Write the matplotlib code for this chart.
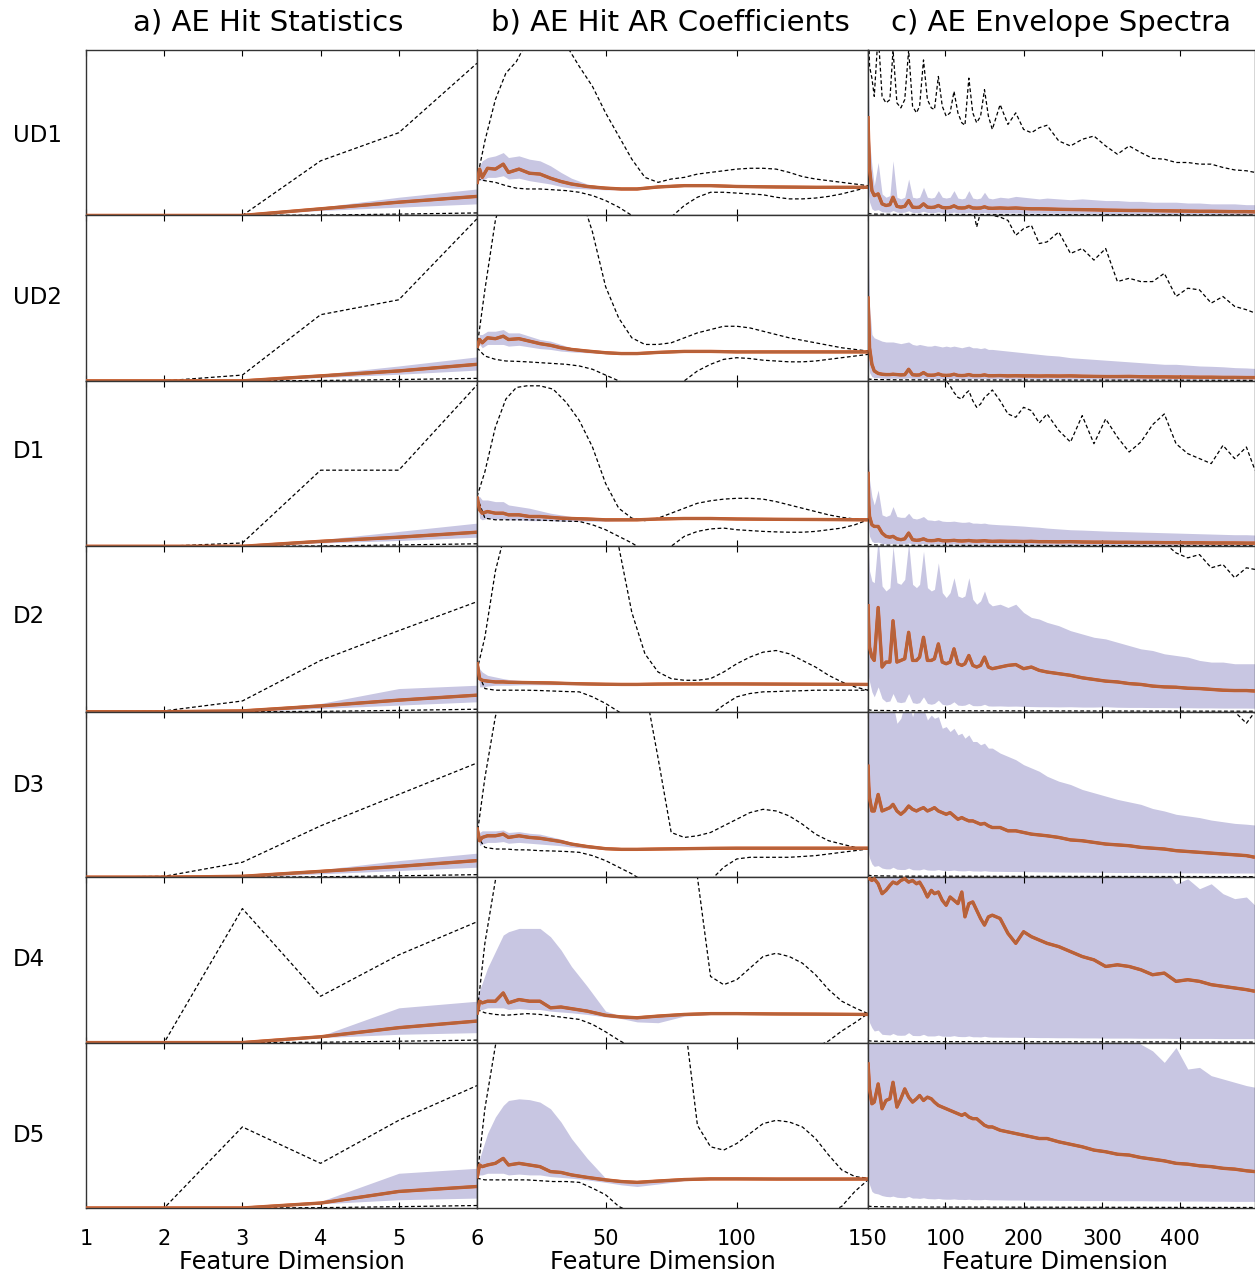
#!/usr/bin/env python3
"""
Recreate the AE feature comparison grid (hit statistics, AR coefficients,
envelope spectra) for the seven damage states.
"""

import matplotlib
matplotlib.use('Agg')
import matplotlib.pyplot as plt

# ---------------------------------------------------------------------------
# Data (in panel units: 0 = bottom, 1 = top)
# ---------------------------------------------------------------------------
rows = ['UD1', 'UD2', 'D1', 'D2', 'D3', 'D4', 'D5']
row_label_y = [135, 297, 452, 617, 786, 960, 1136]   # pixel rows of the labels
col_titles = ['a) AE Hit Statistics', 'b) AE Hit AR Coefficients', 'c) AE Envelope Spectra']
x_label = 'Feature Dimension'

# --- column a: hit statistics, 6 features
a_x = [1, 2, 3, 4, 5, 6]
a_upper = {
    'UD1': [0, 0, 0, 0.33, 0.50, 0.92],
    'UD2': [0, 0, 0.035, 0.40, 0.49, 0.98],
    'D1': [0, 0, 0.02, 0.46, 0.46, 0.975],
    'D2': [0, 0.005, 0.065, 0.31, 0.49, 0.665],
    'D3': [0, 0.005, 0.09, 0.31, 0.50, 0.69],
    'D4': [0, 0, 0.81, 0.28, 0.53, 0.73],
    'D5': [0, 0, 0.49, 0.27, 0.53, 0.74],
}
a_lower = [0, 0, 0, 0.002, 0.008, 0.015]
a_mean = {
    'UD1': [0, 0, 0, 0.04, 0.08, 0.115],
    'UD2': [0, 0, 0, 0.03, 0.06, 0.10],
    'D1': [0, 0, 0, 0.03, 0.055, 0.085],
    'D2': [0, 0, 0.005, 0.035, 0.07, 0.10],
    'D3': [0, 0, 0.005, 0.035, 0.065, 0.10],
    'D4': [0, 0, 0, 0.035, 0.09, 0.13],
    'D5': [0, 0, 0, 0.03, 0.10, 0.13],
}
a_hi = {
    'UD1': [0, 0, 0, 0.05, 0.11, 0.16],
    'UD2': [0, 0, 0, 0.04, 0.09, 0.145],
    'D1': [0, 0, 0, 0.04, 0.09, 0.14],
    'D2': [0, 0, 0.01, 0.05, 0.14, 0.16],
    'D3': [0, 0, 0.01, 0.045, 0.10, 0.145],
    'D4': [0, 0, 0, 0.04, 0.21, 0.25],
    'D5': [0, 0, 0, 0.04, 0.21, 0.24],
}
a_lo = {
    'UD1': [0, 0, 0, 0.03, 0.05, 0.07],
    'UD2': [0, 0, 0, 0.02, 0.04, 0.065],
    'D1': [0, 0, 0, 0.02, 0.035, 0.055],
    'D2': [0, 0, 0, 0.02, 0.04, 0.06],
    'D3': [0, 0, 0, 0.02, 0.04, 0.06],
    'D4': [0, 0, 0, 0.03, 0.05, 0.06],
    'D5': [0, 0, 0, 0.025, 0.05, 0.06],
}

# --- column b: AR coefficients, 150 features
b_xd = [1, 4, 8, 12, 16, 20, 25, 30, 35, 40, 45, 50, 55, 60, 65, 70,
        75, 80, 85, 90, 95, 100, 105, 110, 115, 120, 125, 130, 135, 140, 145, 150]
b_upper = {
    'UD1': [0.22, 0.45, 0.70, 0.86, 0.93, 1.05, 1.20, 1.20, 1.03, 0.90, 0.78, 0.62, 0.48, 0.34, 0.23, 0.20,
            0.22, 0.23, 0.25, 0.26, 0.27, 0.28, 0.285, 0.285, 0.28, 0.26, 0.235, 0.22, 0.21, 0.20, 0.19, 0.18],
    'UD2': [0.20, 0.55, 0.97, 1.20, 1.35, 1.45, 1.50, 1.45, 1.30, 1.15, 0.90, 0.57, 0.38, 0.26, 0.22, 0.22,
            0.23, 0.26, 0.29, 0.31, 0.33, 0.33, 0.32, 0.30, 0.28, 0.26, 0.245, 0.23, 0.215, 0.20, 0.19, 0.18],
    'D1': [0.30, 0.45, 0.72, 0.89, 0.96, 0.97, 0.97, 0.95, 0.87, 0.76, 0.60, 0.38, 0.23, 0.17, 0.155, 0.17,
           0.20, 0.23, 0.26, 0.275, 0.285, 0.29, 0.29, 0.285, 0.27, 0.25, 0.23, 0.21, 0.19, 0.175, 0.165, 0.16],
    'D2': [0.25, 0.45, 0.85, 1.10, 1.30, 1.45, 1.55, 1.60, 1.60, 1.50, 1.35, 1.20, 1.00, 0.60, 0.35, 0.24,
           0.20, 0.19, 0.19, 0.20, 0.24, 0.29, 0.33, 0.36, 0.37, 0.35, 0.31, 0.27, 0.22, 0.18, 0.15, 0.13],
    'D3': [0.25, 0.60, 0.97, 1.20, 1.35, 1.50, 1.60, 1.70, 1.75, 1.75, 1.70, 1.60, 1.50, 1.35, 1.15, 0.72,
           0.27, 0.24, 0.25, 0.27, 0.31, 0.35, 0.39, 0.41, 0.40, 0.37, 0.32, 0.26, 0.22, 0.20, 0.18, 0.17],
    'D4': [0.175, 0.60, 0.98, 1.30, 1.50, 1.70, 1.85, 2.00, 2.05, 2.10, 2.10, 2.10, 2.05, 2.00, 1.90, 1.80,
           1.60, 1.30, 1.00, 0.40, 0.35, 0.38, 0.45, 0.52, 0.54, 0.52, 0.48, 0.41, 0.32, 0.25, 0.21, 0.175],
    'D5': [0.18, 0.60, 0.98, 1.30, 1.50, 1.70, 1.85, 2.00, 2.05, 2.10, 2.10, 2.10, 2.05, 2.00, 1.90, 1.70,
           1.45, 1.15, 0.50, 0.37, 0.35, 0.39, 0.45, 0.51, 0.53, 0.52, 0.49, 0.42, 0.32, 0.23, 0.19, 0.18],
}
b_lower = {
    'UD1': [0.22, 0.21, 0.20, 0.18, 0.165, 0.16, 0.16, 0.155, 0.15, 0.14, 0.12, 0.09, 0.05, 0.0, -0.05, -0.06,
            -0.01, 0.06, 0.11, 0.14, 0.14, 0.135, 0.13, 0.125, 0.11, 0.10, 0.10, 0.105, 0.115, 0.13, 0.15, 0.17],
    'UD2': [0.20, 0.15, 0.13, 0.12, 0.118, 0.115, 0.11, 0.105, 0.10, 0.09, 0.07, 0.035, 0.0, -0.04, -0.06, -0.06,
            -0.04, 0.0, 0.06, 0.10, 0.13, 0.14, 0.135, 0.125, 0.12, 0.115, 0.115, 0.12, 0.13, 0.14, 0.15, 0.16],
    'D1': [0.30, 0.17, 0.16, 0.16, 0.16, 0.16, 0.158, 0.155, 0.152, 0.15, 0.13, 0.10, 0.06, 0.02, -0.03, -0.04,
           0.0, 0.06, 0.09, 0.105, 0.11, 0.10, 0.095, 0.09, 0.087, 0.085, 0.085, 0.09, 0.10, 0.11, 0.13, 0.16],
    'D2': [0.25, 0.14, 0.13, 0.13, 0.13, 0.13, 0.128, 0.125, 0.122, 0.12, 0.09, 0.05, 0.0, -0.05, -0.08, -0.09,
           -0.09, -0.08, -0.06, -0.02, 0.04, 0.09, 0.11, 0.12, 0.122, 0.125, 0.127, 0.13, 0.13, 0.13, 0.13, 0.13],
    'D3': [0.25, 0.18, 0.17, 0.17, 0.165, 0.165, 0.16, 0.158, 0.155, 0.15, 0.13, 0.10, 0.06, 0.02, -0.03, -0.06,
           -0.07, -0.07, -0.05, -0.02, 0.06, 0.11, 0.12, 0.12, 0.12, 0.12, 0.125, 0.13, 0.14, 0.15, 0.16, 0.17],
    'D4': [0.20, 0.18, 0.17, 0.165, 0.17, 0.175, 0.17, 0.16, 0.15, 0.14, 0.11, 0.065, 0.015, -0.03, -0.06, -0.08,
           -0.09, -0.10, -0.10, -0.10, -0.10, -0.10, -0.09, -0.08, -0.07, -0.06, -0.05, -0.03, 0.01, 0.07, 0.12, 0.175],
    'D5': [0.18, 0.17, 0.17, 0.17, 0.17, 0.17, 0.165, 0.16, 0.16, 0.155, 0.12, 0.08, 0.01, -0.03, -0.06, -0.08,
           -0.09, -0.10, -0.10, -0.10, -0.10, -0.10, -0.10, -0.09, -0.08, -0.07, -0.06, -0.05, -0.03, 0.01, 0.10, 0.17],
}
b_x = [1, 2, 3, 5, 8, 11, 13, 17, 21, 25, 29, 33, 37, 43, 50, 56, 62, 70, 80, 90, 100, 115, 130, 150]
b_mean = {
    'UD1': [0.19, 0.28, 0.23, 0.285, 0.28, 0.31, 0.26, 0.28, 0.255, 0.25, 0.225, 0.205,
            0.19, 0.175, 0.165, 0.16, 0.16, 0.172, 0.18, 0.18, 0.175, 0.172, 0.17, 0.17],
    'UD2': [0.20, 0.25, 0.23, 0.26, 0.255, 0.27, 0.25, 0.255, 0.24, 0.225, 0.215, 0.20,
            0.19, 0.18, 0.17, 0.165, 0.165, 0.172, 0.178, 0.178, 0.175, 0.175, 0.175, 0.175],
    'D1': [0.30, 0.22, 0.20, 0.21, 0.20, 0.20, 0.19, 0.19, 0.18, 0.18, 0.175, 0.17,
           0.168, 0.165, 0.16, 0.16, 0.16, 0.165, 0.168, 0.168, 0.165, 0.163, 0.162, 0.16],
    'D2': [0.30, 0.20, 0.19, 0.185, 0.18, 0.18, 0.178, 0.177, 0.176, 0.175, 0.174, 0.172,
           0.17, 0.168, 0.166, 0.165, 0.165, 0.167, 0.168, 0.168, 0.168, 0.167, 0.166, 0.165],
    'D3': [0.30, 0.22, 0.24, 0.25, 0.25, 0.26, 0.24, 0.25, 0.24, 0.235, 0.225, 0.215,
           0.20, 0.185, 0.172, 0.168, 0.168, 0.17, 0.172, 0.174, 0.175, 0.175, 0.175, 0.175],
    'D4': [0.17, 0.25, 0.24, 0.25, 0.25, 0.30, 0.24, 0.26, 0.25, 0.25, 0.21, 0.215,
           0.205, 0.19, 0.165, 0.155, 0.15, 0.16, 0.17, 0.175, 0.175, 0.173, 0.172, 0.17],
    'D5': [0.18, 0.26, 0.25, 0.26, 0.27, 0.30, 0.26, 0.27, 0.26, 0.25, 0.22, 0.215,
           0.20, 0.185, 0.17, 0.16, 0.155, 0.163, 0.172, 0.176, 0.176, 0.175, 0.175, 0.175],
}
b_hi = {
    'UD1': [0.19, 0.30, 0.33, 0.35, 0.36, 0.38, 0.35, 0.36, 0.34, 0.33, 0.30, 0.26,
            0.225, 0.19, 0.17, 0.162, 0.163, 0.175, 0.183, 0.183, 0.178, 0.175, 0.173, 0.172],
    'UD2': [0.20, 0.28, 0.28, 0.30, 0.30, 0.31, 0.29, 0.29, 0.27, 0.25, 0.24, 0.22,
            0.20, 0.185, 0.173, 0.167, 0.167, 0.175, 0.18, 0.18, 0.178, 0.177, 0.177, 0.177],
    'D1': [0.30, 0.30, 0.28, 0.28, 0.27, 0.27, 0.25, 0.24, 0.23, 0.215, 0.20, 0.19,
           0.18, 0.172, 0.165, 0.162, 0.162, 0.167, 0.17, 0.17, 0.167, 0.165, 0.164, 0.162],
    'D2': [0.30, 0.26, 0.24, 0.22, 0.21, 0.20, 0.195, 0.19, 0.185, 0.182, 0.18, 0.178,
           0.175, 0.172, 0.168, 0.167, 0.167, 0.169, 0.17, 0.17, 0.17, 0.169, 0.168, 0.167],
    'D3': [0.30, 0.27, 0.28, 0.28, 0.28, 0.285, 0.27, 0.275, 0.265, 0.26, 0.245, 0.23,
           0.21, 0.19, 0.175, 0.17, 0.17, 0.172, 0.174, 0.176, 0.177, 0.177, 0.177, 0.177],
    'D4': [0.25, 0.32, 0.36, 0.45, 0.55, 0.65, 0.67, 0.69, 0.69, 0.69, 0.64, 0.56,
           0.46, 0.34, 0.19, 0.16, 0.15, 0.162, 0.172, 0.177, 0.177, 0.175, 0.173, 0.172],
    'D5': [0.18, 0.30, 0.35, 0.45, 0.55, 0.62, 0.65, 0.66, 0.655, 0.64, 0.60, 0.52,
           0.42, 0.30, 0.18, 0.16, 0.155, 0.165, 0.175, 0.178, 0.178, 0.177, 0.177, 0.177],
}
b_lo = {
    'UD1': [0.19, 0.22, 0.21, 0.23, 0.23, 0.24, 0.22, 0.225, 0.21, 0.20, 0.19, 0.175,
            0.165, 0.16, 0.155, 0.155, 0.155, 0.168, 0.177, 0.177, 0.172, 0.169, 0.167, 0.167],
    'UD2': [0.20, 0.22, 0.20, 0.22, 0.22, 0.22, 0.21, 0.215, 0.205, 0.195, 0.19, 0.18,
            0.175, 0.17, 0.165, 0.16, 0.162, 0.17, 0.175, 0.175, 0.172, 0.172, 0.172, 0.172],
    'D1': [0.30, 0.17, 0.16, 0.17, 0.165, 0.165, 0.16, 0.16, 0.155, 0.155, 0.155, 0.152,
           0.152, 0.152, 0.152, 0.155, 0.156, 0.162, 0.165, 0.165, 0.162, 0.16, 0.159, 0.157],
    'D2': [0.30, 0.15, 0.15, 0.155, 0.16, 0.16, 0.16, 0.162, 0.163, 0.163, 0.163, 0.163,
           0.163, 0.163, 0.163, 0.162, 0.162, 0.165, 0.166, 0.166, 0.166, 0.165, 0.164, 0.163],
    'D3': [0.30, 0.19, 0.20, 0.21, 0.21, 0.215, 0.205, 0.21, 0.205, 0.20, 0.195, 0.19,
           0.182, 0.175, 0.168, 0.165, 0.165, 0.168, 0.17, 0.172, 0.173, 0.173, 0.173, 0.173],
    'D4': [0.17, 0.20, 0.20, 0.21, 0.21, 0.21, 0.20, 0.205, 0.20, 0.20, 0.19, 0.185,
           0.18, 0.17, 0.155, 0.145, 0.125, 0.12, 0.16, 0.17, 0.172, 0.171, 0.17, 0.168],
    'D5': [0.18, 0.20, 0.20, 0.21, 0.21, 0.21, 0.20, 0.205, 0.20, 0.20, 0.19, 0.185,
           0.18, 0.17, 0.155, 0.14, 0.13, 0.145, 0.165, 0.172, 0.174, 0.173, 0.173, 0.173],
}

# --- column c: envelope spectra, ~500 bins (harmonic peaks every ~19 bins)
c_x = [1, 2, 3, 6, 9, 14, 19, 24, 29, 33,
       38, 43, 48, 53, 58, 63, 67, 72, 77, 82,
       86, 91, 96, 101, 106, 111, 116, 121, 125, 130,
       135, 140, 145, 150, 155, 160, 170, 180, 190, 200,
       210, 220, 230, 245, 260, 275, 290, 305, 320, 335,
       350, 365, 380, 395, 410, 425, 440, 455, 470, 485,
       496]
c_upper_x = {
    'UD1': c_x, 'UD2': c_x, 'D1': c_x, 'D2': c_x, 'D3': c_x,
    'D4': [1, 100, 200, 300, 400, 496],
    'D5': [1, 100, 200, 300, 400, 496],
}
c_upper = {
    'UD1': [1.30, 1.10, 0.90, 0.83, 0.72, 1.10, 0.72, 0.68, 0.70, 1.00,
            0.68, 0.65, 0.70, 1.00, 0.66, 0.62, 0.66, 0.94, 0.70, 0.65,
            0.64, 0.84, 0.66, 0.60, 0.62, 0.75, 0.62, 0.56, 0.545, 0.83,
            0.62, 0.56, 0.60, 0.76, 0.60, 0.52, 0.67, 0.55, 0.62, 0.52,
            0.50, 0.53, 0.545, 0.45, 0.42, 0.46, 0.48, 0.42, 0.37, 0.42,
            0.38, 0.345, 0.34, 0.32, 0.32, 0.31, 0.31, 0.29, 0.275, 0.27,
            0.26],
    'UD2': [1.60, 1.60, 1.60, 1.60, 1.60, 1.60, 1.55, 1.55, 1.50, 1.50,
            1.50, 1.45, 1.45, 1.40, 1.40, 1.35, 1.35, 1.30, 1.30, 1.25,
            1.25, 1.20, 1.20, 1.20, 1.15, 1.15, 1.10, 1.10, 1.10, 1.08,
            1.05, 0.93, 1.02, 1.00, 1.01, 1.00, 0.99, 0.97, 0.88, 0.92,
            0.94, 0.83, 0.84, 0.90, 0.77, 0.80, 0.73, 0.80, 0.60, 0.62,
            0.60, 0.60, 0.65, 0.51, 0.56, 0.55, 0.47, 0.51, 0.45, 0.43,
            0.41],
    'D1': [1.50, 1.50, 1.50, 1.50, 1.50, 1.50, 1.45, 1.45, 1.40, 1.40,
           1.40, 1.35, 1.35, 1.30, 1.30, 1.25, 1.25, 1.20, 1.20, 1.15,
           1.15, 1.10, 1.05, 1.00, 0.97, 0.93, 0.90, 0.89, 0.92, 0.94,
           0.88, 0.84, 0.86, 0.90, 0.92, 0.945, 0.88, 0.80, 0.78, 0.84,
           0.82, 0.745, 0.80, 0.70, 0.63, 0.79, 0.62, 0.77, 0.66, 0.57,
           0.63, 0.735, 0.80, 0.62, 0.56, 0.53, 0.50, 0.61, 0.53, 0.60,
           0.46],
    'D2': [1.80, 1.80, 1.80, 1.80, 1.75, 1.75, 1.70, 1.70, 1.70, 1.70,
           1.65, 1.65, 1.65, 1.60, 1.60, 1.60, 1.60, 1.55, 1.55, 1.55,
           1.50, 1.50, 1.50, 1.50, 1.45, 1.45, 1.45, 1.40, 1.40, 1.40,
           1.40, 1.35, 1.35, 1.35, 1.30, 1.30, 1.30, 1.25, 1.25, 1.20,
           1.20, 1.20, 1.15, 1.15, 1.10, 1.10, 1.10, 1.05, 1.05, 1.05,
           1.05, 1.04, 1.02, 0.96, 0.93, 0.95, 0.87, 0.89, 0.81, 0.87,
           0.86],
    'D3': [2.00, 2.00, 2.00, 2.00, 1.95, 1.95, 1.90, 1.90, 1.90, 1.90,
           1.85, 1.85, 1.85, 1.80, 1.80, 1.80, 1.80, 1.75, 1.75, 1.75,
           1.70, 1.70, 1.70, 1.70, 1.65, 1.65, 1.65, 1.60, 1.60, 1.60,
           1.60, 1.55, 1.55, 1.55, 1.50, 1.50, 1.50, 1.45, 1.45, 1.40,
           1.40, 1.35, 1.35, 1.30, 1.30, 1.25, 1.25, 1.20, 1.20, 1.15,
           1.15, 1.12, 1.10, 1.10, 1.08, 1.06, 1.05, 1.04, 1.00, 0.93,
           1.00],
    'D4': [2.60, 2.30, 2.00, 1.75, 1.55, 1.40],
    'D5': [2.40, 2.20, 1.95, 1.70, 1.50, 1.35],
}
c_lower_x = [1, 3, 10, 40, 496]
c_lower = [0.015, 0.01, 0.008, 0.006, 0.003]
c_hi = {
    'UD1': [1.00, 0.70, 0.45, 0.30, 0.18, 0.32, 0.13, 0.11, 0.12, 0.33,
            0.11, 0.10, 0.11, 0.22, 0.11, 0.105, 0.11, 0.17, 0.11, 0.105,
            0.11, 0.15, 0.11, 0.105, 0.11, 0.15, 0.105, 0.10, 0.105, 0.15,
            0.105, 0.10, 0.105, 0.14, 0.105, 0.10, 0.11, 0.105, 0.115, 0.11,
            0.105, 0.10, 0.105, 0.10, 0.095, 0.10, 0.095, 0.09, 0.09, 0.085,
            0.085, 0.08, 0.08, 0.08, 0.075, 0.075, 0.07, 0.07, 0.07, 0.065,
            0.065],
    'UD2': [1.00, 0.70, 0.45, 0.28, 0.26, 0.25, 0.24, 0.235, 0.235, 0.235,
            0.23, 0.225, 0.23, 0.235, 0.22, 0.215, 0.22, 0.215, 0.21, 0.21,
            0.215, 0.21, 0.205, 0.21, 0.205, 0.21, 0.205, 0.20, 0.205, 0.21,
            0.20, 0.20, 0.195, 0.20, 0.19, 0.19, 0.185, 0.18, 0.175, 0.17,
            0.165, 0.16, 0.155, 0.15, 0.14, 0.135, 0.13, 0.125, 0.12, 0.115,
            0.11, 0.105, 0.10, 0.10, 0.095, 0.09, 0.088, 0.085, 0.08, 0.078,
            0.075],
    'D1': [0.60, 0.50, 0.40, 0.30, 0.25, 0.34, 0.19, 0.18, 0.19, 0.24,
           0.18, 0.175, 0.175, 0.20, 0.17, 0.165, 0.17, 0.18, 0.16, 0.158,
           0.155, 0.16, 0.152, 0.15, 0.15, 0.152, 0.148, 0.145, 0.145, 0.148,
           0.14, 0.14, 0.138, 0.14, 0.135, 0.133, 0.13, 0.128, 0.125, 0.122,
           0.118, 0.115, 0.11, 0.105, 0.10, 0.098, 0.095, 0.092, 0.09, 0.088,
           0.086, 0.084, 0.082, 0.08, 0.078, 0.076, 0.074, 0.072, 0.07, 0.07,
           0.068],
    'D2': [1.10, 0.95, 0.85, 0.79, 0.78, 1.05, 0.76, 0.73, 0.75, 1.00,
           0.78, 0.77, 0.80, 1.02, 0.77, 0.75, 0.77, 0.97, 0.75, 0.73,
           0.74, 0.90, 0.72, 0.69, 0.72, 0.81, 0.70, 0.69, 0.70, 0.81,
           0.68, 0.65, 0.67, 0.73, 0.66, 0.64, 0.65, 0.63, 0.65, 0.60,
           0.57, 0.56, 0.54, 0.52, 0.49, 0.47, 0.45, 0.44, 0.42, 0.40,
           0.38, 0.37, 0.35, 0.34, 0.33, 0.31, 0.30, 0.30, 0.29, 0.29,
           0.29],
    'D3': [1.05, 1.05, 1.05, 1.05, 1.05, 1.05, 1.05, 1.05, 1.05, 1.05,
           0.93, 0.96, 1.05, 1.05, 0.97, 1.05, 1.05, 1.02, 0.95, 0.98,
           0.96, 0.97, 0.90, 0.91, 0.88, 0.90, 0.86, 0.87, 0.84, 0.86,
           0.82, 0.82, 0.80, 0.81, 0.78, 0.78, 0.75, 0.73, 0.71, 0.68,
           0.66, 0.64, 0.61, 0.58, 0.56, 0.53, 0.51, 0.49, 0.47, 0.455,
           0.44, 0.415, 0.40, 0.38, 0.37, 0.36, 0.345, 0.335, 0.325, 0.32,
           0.315],
    'D4': [1.05, 1.05, 1.05, 1.05, 1.05, 1.05, 1.05, 1.05, 1.05, 1.05,
           1.05, 1.05, 1.05, 1.05, 1.05, 1.05, 1.05, 1.05, 1.05, 1.05,
           1.05, 1.05, 1.05, 1.05, 1.05, 1.05, 1.05, 1.05, 1.05, 1.05,
           1.05, 1.05, 1.05, 1.05, 1.05, 1.05, 1.05, 1.05, 1.05, 1.05,
           1.05, 1.05, 1.05, 1.05, 1.05, 1.05, 1.05, 1.05, 1.05, 1.05,
           1.05, 1.05, 1.05, 0.96, 0.99, 0.93, 0.96, 0.90, 0.87, 0.88,
           0.83],
    'D5': [1.05, 1.05, 1.05, 1.05, 1.05, 1.05, 1.05, 1.05, 1.05, 1.05,
           1.05, 1.05, 1.05, 1.05, 1.05, 1.05, 1.05, 1.05, 1.05, 1.05,
           1.05, 1.05, 1.05, 1.05, 1.05, 1.05, 1.05, 1.05, 1.05, 1.05,
           1.05, 1.05, 1.05, 1.05, 1.05, 1.05, 1.05, 1.05, 1.05, 1.05,
           1.05, 1.05, 1.05, 1.05, 1.05, 1.05, 1.05, 1.05, 1.05, 1.05,
           0.99, 0.95, 0.88, 0.97, 0.84, 0.85, 0.80, 0.78, 0.76, 0.74,
           0.73],
}
c_lo = {
    'UD1': [0.20, 0.12, 0.08, 0.04, 0.03, 0.035, 0.022, 0.02, 0.02, 0.03,
            0.02, 0.018, 0.02, 0.028, 0.018, 0.018, 0.018, 0.025, 0.018, 0.017,
            0.017, 0.022, 0.017, 0.016, 0.016, 0.02, 0.016, 0.016, 0.016, 0.019,
            0.016, 0.015, 0.015, 0.018, 0.015, 0.015, 0.015, 0.015, 0.015, 0.014,
            0.014, 0.014, 0.014, 0.013, 0.013, 0.013, 0.013, 0.012, 0.012, 0.012,
            0.012, 0.012, 0.011, 0.011, 0.011, 0.011, 0.01, 0.01, 0.01, 0.01,
            0.01],
    'UD2': [0.20, 0.10, 0.05, 0.025, 0.02, 0.02, 0.016, 0.015, 0.015, 0.017,
            0.015, 0.015, 0.015, 0.018, 0.015, 0.015, 0.015, 0.016, 0.014, 0.014,
            0.014, 0.015, 0.014, 0.014, 0.014, 0.015, 0.014, 0.013, 0.013, 0.014,
            0.013, 0.013, 0.013, 0.014, 0.013, 0.013, 0.013, 0.012, 0.012, 0.012,
            0.012, 0.012, 0.012, 0.011, 0.011, 0.011, 0.011, 0.011, 0.01, 0.01,
            0.01, 0.01, 0.01, 0.01, 0.01, 0.01, 0.01, 0.01, 0.01, 0.01,
            0.01],
    'D1': [0.20, 0.11, 0.06, 0.03, 0.022, 0.025, 0.017, 0.016, 0.016, 0.018,
           0.015, 0.015, 0.015, 0.02, 0.015, 0.015, 0.015, 0.017, 0.014, 0.014,
           0.014, 0.016, 0.014, 0.014, 0.014, 0.015, 0.014, 0.013, 0.013, 0.014,
           0.013, 0.013, 0.013, 0.014, 0.013, 0.013, 0.013, 0.012, 0.012, 0.012,
           0.012, 0.012, 0.012, 0.011, 0.011, 0.011, 0.011, 0.011, 0.01, 0.01,
           0.01, 0.01, 0.01, 0.01, 0.01, 0.01, 0.01, 0.01, 0.01, 0.01,
           0.01],
    'D2': [0.25, 0.20, 0.18, 0.12, 0.09, 0.15, 0.08, 0.06, 0.065, 0.11,
           0.06, 0.055, 0.06, 0.11, 0.055, 0.05, 0.055, 0.09, 0.05, 0.045,
           0.05, 0.07, 0.045, 0.04, 0.045, 0.06, 0.04, 0.038, 0.04, 0.05,
           0.037, 0.036, 0.037, 0.045, 0.035, 0.034, 0.035, 0.033, 0.034, 0.032,
           0.031, 0.03, 0.03, 0.029, 0.03, 0.028, 0.028, 0.03, 0.027, 0.026,
           0.026, 0.025, 0.025, 0.024, 0.024, 0.023, 0.023, 0.022, 0.022, 0.022,
           0.021],
    'D3': [0.20, 0.14, 0.115, 0.08, 0.065, 0.07, 0.055, 0.05, 0.05, 0.06,
           0.048, 0.046, 0.046, 0.055, 0.045, 0.044, 0.044, 0.05, 0.043, 0.042,
           0.042, 0.046, 0.041, 0.04, 0.04, 0.043, 0.039, 0.038, 0.038, 0.041,
           0.037, 0.037, 0.036, 0.039, 0.036, 0.035, 0.035, 0.034, 0.034, 0.033,
           0.033, 0.032, 0.032, 0.031, 0.03, 0.03, 0.029, 0.029, 0.028, 0.028,
           0.028, 0.027, 0.027, 0.026, 0.026, 0.026, 0.025, 0.025, 0.025, 0.025,
           0.025],
    'D4': [0.30, 0.15, 0.12, 0.09, 0.07, 0.075, 0.05, 0.048, 0.046, 0.055,
           0.045, 0.044, 0.045, 0.06, 0.043, 0.042, 0.042, 0.05, 0.04, 0.04,
           0.04, 0.045, 0.039, 0.038, 0.038, 0.042, 0.037, 0.036, 0.036, 0.04,
           0.035, 0.035, 0.034, 0.038, 0.034, 0.033, 0.033, 0.032, 0.032, 0.031,
           0.031, 0.03, 0.03, 0.029, 0.029, 0.028, 0.028, 0.027, 0.027, 0.027,
           0.026, 0.026, 0.026, 0.025, 0.025, 0.025, 0.025, 0.024, 0.024, 0.024,
           0.024],
    'D5': [0.30, 0.16, 0.14, 0.10, 0.09, 0.085, 0.075, 0.07, 0.068, 0.072,
           0.065, 0.063, 0.062, 0.07, 0.06, 0.06, 0.058, 0.062, 0.057, 0.056,
           0.055, 0.058, 0.054, 0.053, 0.053, 0.055, 0.052, 0.052, 0.051, 0.053,
           0.05, 0.05, 0.05, 0.052, 0.05, 0.049, 0.049, 0.048, 0.048, 0.048,
           0.047, 0.047, 0.047, 0.046, 0.046, 0.045, 0.045, 0.045, 0.044, 0.044,
           0.044, 0.043, 0.043, 0.042, 0.042, 0.042, 0.041, 0.041, 0.04, 0.04,
           0.04],
}
c_mean = {
    'UD1': [0.60, 0.42, 0.28, 0.15, 0.12, 0.13, 0.07, 0.06, 0.065, 0.11,
            0.055, 0.05, 0.055, 0.09, 0.05, 0.048, 0.05, 0.07, 0.05, 0.048,
            0.05, 0.06, 0.048, 0.046, 0.048, 0.058, 0.046, 0.045, 0.046, 0.055,
            0.045, 0.044, 0.045, 0.052, 0.044, 0.043, 0.045, 0.043, 0.045, 0.042,
            0.04, 0.04, 0.039, 0.037, 0.036, 0.035, 0.034, 0.032, 0.031, 0.03,
            0.03, 0.029, 0.028, 0.027, 0.026, 0.025, 0.025, 0.024, 0.023, 0.023,
            0.022],
    'UD2': [0.51, 0.37, 0.20, 0.10, 0.06, 0.045, 0.04, 0.038, 0.038, 0.04,
            0.038, 0.036, 0.037, 0.07, 0.037, 0.035, 0.036, 0.05, 0.035, 0.034,
            0.035, 0.042, 0.034, 0.033, 0.034, 0.04, 0.033, 0.032, 0.033, 0.038,
            0.032, 0.032, 0.032, 0.036, 0.031, 0.031, 0.032, 0.03, 0.031, 0.03,
            0.03, 0.029, 0.03, 0.029, 0.03, 0.028, 0.027, 0.026, 0.026, 0.027,
            0.025, 0.024, 0.024, 0.023, 0.023, 0.022, 0.022, 0.021, 0.021, 0.02,
            0.02],
    'D1': [0.45, 0.25, 0.18, 0.13, 0.12, 0.12, 0.08, 0.06, 0.055, 0.06,
           0.045, 0.04, 0.045, 0.08, 0.04, 0.036, 0.038, 0.045, 0.035, 0.034,
           0.035, 0.04, 0.034, 0.033, 0.034, 0.036, 0.033, 0.032, 0.033, 0.035,
           0.032, 0.031, 0.032, 0.034, 0.031, 0.03, 0.031, 0.03, 0.03, 0.029,
           0.03, 0.028, 0.028, 0.027, 0.028, 0.026, 0.025, 0.025, 0.024, 0.024,
           0.023, 0.023, 0.022, 0.022, 0.021, 0.021, 0.02, 0.02, 0.02, 0.019,
           0.019],
    'D2': [0.65, 0.50, 0.39, 0.33, 0.31, 0.63, 0.27, 0.30, 0.30, 0.55,
           0.30, 0.31, 0.32, 0.48, 0.31, 0.31, 0.33, 0.45, 0.31, 0.31,
           0.32, 0.41, 0.30, 0.29, 0.30, 0.38, 0.29, 0.28, 0.29, 0.34,
           0.28, 0.27, 0.28, 0.33, 0.27, 0.26, 0.27, 0.28, 0.285, 0.26,
           0.27, 0.25, 0.24, 0.23, 0.22, 0.205, 0.195, 0.185, 0.18, 0.17,
           0.165, 0.155, 0.15, 0.148, 0.142, 0.14, 0.135, 0.13, 0.128, 0.128,
           0.125],
    'D3': [0.68, 0.55, 0.48, 0.40, 0.40, 0.50, 0.40, 0.41, 0.42, 0.44,
           0.40, 0.38, 0.40, 0.43, 0.41, 0.40, 0.41, 0.42, 0.40, 0.41,
           0.42, 0.40, 0.39, 0.38, 0.39, 0.37, 0.35, 0.36, 0.35, 0.34,
           0.34, 0.33, 0.32, 0.325, 0.31, 0.30, 0.30, 0.28, 0.28, 0.27,
           0.26, 0.255, 0.25, 0.24, 0.225, 0.22, 0.21, 0.20, 0.195, 0.19,
           0.18, 0.175, 0.17, 0.16, 0.155, 0.15, 0.145, 0.14, 0.135, 0.13,
           0.12],
    'D4': [1.05, 1.00, 0.99, 0.98, 0.99, 0.96, 0.90, 0.92, 0.95, 0.97,
           0.96, 0.98, 0.99, 0.97, 0.98, 0.96, 0.97, 0.93, 0.88, 0.92,
           0.90, 0.91, 0.86, 0.83, 0.88, 0.86, 0.84, 0.91, 0.76, 0.84,
           0.85, 0.80, 0.75, 0.71, 0.76, 0.77, 0.75, 0.66, 0.60, 0.67,
           0.64, 0.62, 0.60, 0.58, 0.55, 0.52, 0.50, 0.46, 0.47, 0.46,
           0.44, 0.41, 0.42, 0.37, 0.38, 0.37, 0.35, 0.34, 0.33, 0.32,
           0.31],
    'D5': [0.88, 0.80, 0.72, 0.63, 0.64, 0.75, 0.60, 0.65, 0.66, 0.76,
           0.61, 0.66, 0.72, 0.67, 0.64, 0.66, 0.68, 0.65, 0.67, 0.66,
           0.64, 0.62, 0.61, 0.60, 0.59, 0.58, 0.57, 0.56, 0.57, 0.55,
           0.54, 0.54, 0.52, 0.50, 0.49, 0.49, 0.47, 0.46, 0.45, 0.44,
           0.43, 0.42, 0.42, 0.40, 0.385, 0.37, 0.35, 0.34, 0.325, 0.32,
           0.305, 0.295, 0.285, 0.27, 0.265, 0.255, 0.25, 0.24, 0.235, 0.225,
           0.22],
}

# column x-ranges and tick marks
col_xlim = [(1, 6), (1, 150), (1, 496)]
col_ticks = [[1, 2, 3, 4, 5, 6], [50, 100, 150], [100, 200, 300, 400]]

# colours
BAND = '#C8C6E2'
MEAN = '#B5633C'
MEAN_EDGE = '#D95319'


def draw_panel(ax, x_band, lo, hi, mean, dashed):
    ax.fill_between(x_band, lo, hi, color=BAND, linewidth=0, zorder=1)
    for dx, dy in dashed:
        ax.plot(dx, dy, color='black', linestyle=(0, (3, 2)), linewidth=0.9, zorder=2)
    ax.plot(x_band, mean, color=MEAN_EDGE, linewidth=2.4, zorder=3, solid_capstyle='butt')
    ax.plot(x_band, mean, color=MEAN, linewidth=2.0, zorder=4, solid_capstyle='butt')


def main():
    W, H = 1255, 1279
    fig = plt.figure(figsize=(W / 100, H / 100), dpi=100)

    col_left = [86, 477, 868]
    col_right = [477, 868, 1255]
    top, bottom = 50, 1208
    row_h = (bottom - top) / len(rows)

    for r, name in enumerate(rows):
        y_top = top + r * row_h
        for c in range(3):
            rect = [col_left[c] / W, 1 - (y_top + row_h) / H,
                    (col_right[c] - col_left[c]) / W, row_h / H]
            ax = fig.add_axes(rect)

            if c == 0:
                draw_panel(ax, a_x, a_lo[name], a_hi[name], a_mean[name],
                           [(a_x, a_upper[name]), (a_x, a_lower)])
            elif c == 1:
                draw_panel(ax, b_x, b_lo[name], b_hi[name], b_mean[name],
                           [(b_xd, b_upper[name]), (b_xd, b_lower[name])])
            else:
                draw_panel(ax, c_x, c_lo[name], c_hi[name], c_mean[name],
                           [(c_upper_x[name], c_upper[name]), (c_lower_x, c_lower)])

            ax.set_xlim(*col_xlim[c])
            ax.set_ylim(0, 1)
            ax.set_yticks([])
            ax.set_xticks(col_ticks[c])
            ax.tick_params(axis='x', direction='in', top=True, length=4, width=0.8,
                           labelsize=15, pad=15, labelbottom=(r == len(rows) - 1))
            for sp in ax.spines.values():
                sp.set_color('0.2')
                sp.set_linewidth(1.0)

        # row label
        fig.text(13 / W, 1 - row_label_y[r] / H, name, fontsize=16.5,
                 ha='left', va='center')

    # column titles and x labels
    title_x = [268, 670, 1061]
    label_x = [292, 663, 1055]
    for c in range(3):
        fig.text(title_x[c] / W, 1 - 23 / H, col_titles[c], fontsize=21,
                 ha='center', va='center')
        fig.text(label_x[c] / W, 1 - 1262 / H, x_label, fontsize=17.3,
                 ha='center', va='center')

    fig.savefig('out.png', dpi=100)


if __name__ == '__main__':
    main()
